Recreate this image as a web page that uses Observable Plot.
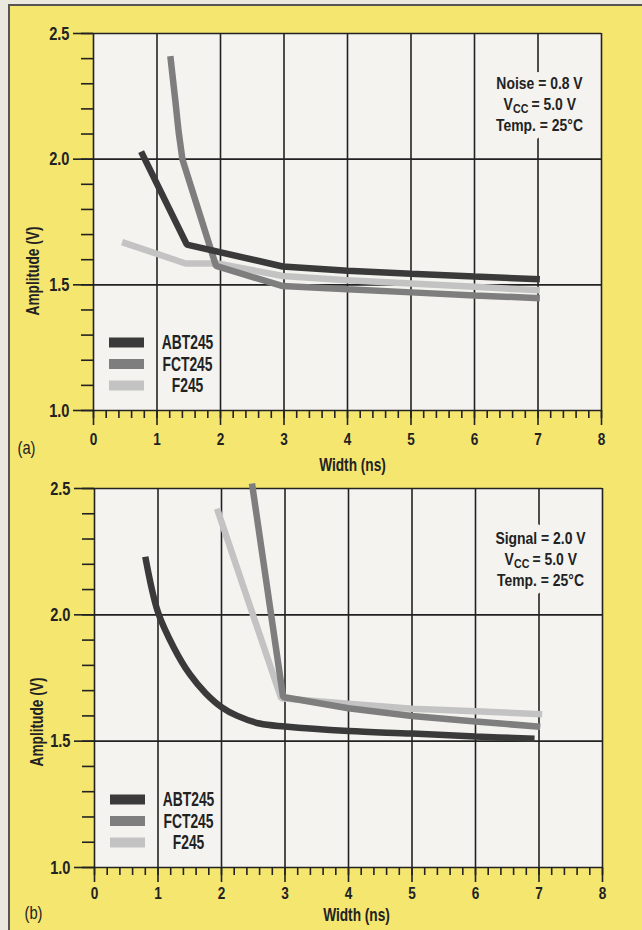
<!DOCTYPE html>
<html>
<head>
<meta charset="utf-8">
<script src="https://cdn.jsdelivr.net/npm/d3@7"></script>
<script src="https://cdn.jsdelivr.net/npm/@observablehq/plot@0.6"></script>
<style>
  html, body { margin: 0; padding: 0; background: #ebe8df; }
  #page { position: relative; width: 642px; height: 930px; overflow: hidden; background: #ebe8df; }
  #card { position: absolute; left: 8px; top: 4px; right: 0; bottom: 0; background: #f5e670;
          border-left: 2px solid #555; border-top: 2px solid #555; }
  #pa, #pb { position: absolute; left: 0; }
  #pa { top: 0; }
  #pb { top: 475px; }
</style>
</head>
<body>
<div id="page">
  <div id="card"></div>
  <div id="pa"></div>
  <div id="pb"></div>
</div>
<script>
// ---------- data ----------
const widthTicks = [0, 1, 2, 3, 4, 5, 6, 7, 8];
const widthMinorTicks = d3.range(0, 41).map(i => i / 5);
const ampTicks = [1.0, 1.5, 2.0, 2.5];
const ampMinorTicks = d3.range(10, 26).map(i => i / 10);
const series = ["ABT245", "FCT245", "F245"];
const seriesColors = ["#3a3a3a", "#7e7e7e", "#c3c3c3"];

// panel (a): noise
const aABT245x = [0.75, 1.47, 2.98, 4.0, 5.0, 6.0, 7.03];
const aABT245y = [2.03, 1.66, 1.573, 1.556, 1.544, 1.533, 1.522];
const aFCT245x = [1.21, 1.29, 1.34, 1.40, 1.93, 2.98, 4.0, 5.0, 6.0, 7.03];
const aFCT245y = [2.41, 2.23, 2.11, 2.00, 1.575, 1.495, 1.482, 1.47, 1.458, 1.447];
const aF245x = [0.45, 1.45, 1.95, 2.98, 4.0, 5.0, 6.0, 7.03];
const aF245y = [1.67, 1.585, 1.585, 1.535, 1.518, 1.505, 1.492, 1.478];

// panel (b): signal
const bABT245x = [0.8, 1.0, 1.25, 1.5, 1.75, 2.0, 2.25, 2.6, 3.0, 4.0, 5.0, 6.0, 6.93];
const bABT245y = [2.23, 2.01, 1.87, 1.765, 1.69, 1.635, 1.6, 1.57, 1.558, 1.54, 1.53, 1.518, 1.51];
const bFCT245x = [2.48, 2.97, 4.0, 5.0, 6.0, 7.02];
const bFCT245y = [2.52, 1.675, 1.63, 1.6, 1.578, 1.557];
const bF245x = [1.93, 2.94, 4.0, 5.0, 6.0, 7.05];
const bF245y = [2.42, 1.67, 1.648, 1.628, 1.618, 1.607];

const noteA = ["Noise = 0.8 V", "V", "CC", "= 5.0 V", "Temp. = 25°C"];
const noteB = ["Signal = 2.0 V", "V", "CC", "= 5.0 V", "Temp. = 25°C"];
const xLabel = "Width (ns)";
const yLabel = "Amplitude (V)";

// ---------- styling ----------
const INK = "#222";
const PLOT_BG = "#f4f3ef";
const FONT = "'Liberation Sans', Arial, sans-serif";
// horizontal condensing per text group (reference uses a condensed face)
const CONDENSE = {"y-axis tick label": 0.77, "x-axis tick label": 0.8, legend: 0.66, note: 0.82, title: 0.72, tag: 0.82};

const rows = (name, xs, ys) => xs.map((x, i) => ({series: name, x, y: ys[i]}));
const swatch = {draw(ctx) { ctx.rect(-17.5, -5, 35, 10); }};

function panel(opts) {
  const {data, curves, note, tag, height, mt, mb, ml, mr, xPad, ampDx, ampDy, wDx, wDy, tagDx, tagDy} = opts;
  const txt = {fill: INK, fontWeight: "bold", fontFamily: FONT};
  const order = [2, 1, 0]; // light first, dark on top
  // annotation pieces: [index into note, dx, dy, anchor, fontSize]
  const pieces = [[0, -62, 50, "middle", 17], [4, -62, 92, "middle", 17], [1, -98, 71, "start", 17],
                  [3, -70, 71, "start", 17], [2, -88.5, 75, "start", 13]];
  const noteMarks = (haloPass) => pieces.map(([k, dx, dy, anchor, fs]) =>
    Plot.text([note[k]], {frameAnchor: "top-right", dx, dy, text: d => d, textAnchor: anchor, lineAnchor: "middle",
      fontSize: fs, fontWeight: "bold", fontFamily: FONT, ariaLabel: () => "note",
      fill: haloPass ? PLOT_BG : INK, stroke: haloPass ? PLOT_BG : null, strokeWidth: haloPass ? 16 : 0}));
  const svg = Plot.plot({
    width: 642,
    height,
    marginTop: mt, marginBottom: mb, marginLeft: ml, marginRight: mr,
    x: {domain: [0, 8]},
    y: {domain: [1, 2.5]},
    style: {background: "transparent", fontFamily: FONT, overflow: "visible"},
    marks: [
      Plot.frame({fill: PLOT_BG, stroke: null}),
      Plot.ruleX(widthTicks, {stroke: INK, strokeWidth: 1.6}),
      Plot.ruleY(ampTicks, {stroke: INK, strokeWidth: 1.6}),
      Plot.axisY(ampMinorTicks, {tickSize: 12, tickFormat: () => "", label: null, color: INK, strokeWidth: 1.6}),
      Plot.axisY(ampTicks, {tickSize: 20, tickPadding: 4, tickFormat: d3.format(".1f"), label: null,
        color: INK, strokeWidth: 1.6, fontSize: 19, fontWeight: "bold", fontFamily: FONT}),
      Plot.axisX(widthMinorTicks, {tickSize: 8, tickFormat: () => "", label: null, color: INK, strokeWidth: 1.6}),
      Plot.axisX(widthTicks, {tickSize: 15, tickPadding: xPad, tickFormat: d3.format("d"), label: null,
        color: INK, strokeWidth: 1.6, fontSize: 17, fontWeight: "bold", fontFamily: FONT}),
      ...order.map(i => Plot.line(data[i], {x: "x", y: "y", stroke: seriesColors[i], strokeWidth: 6.5,
        curve: curves[i], strokeLinejoin: "miter", strokeLinecap: "butt"})),
      // legend
      ...series.map((s, i) => Plot.dot([s], {frameAnchor: "bottom-left", dx: 33, dy: -68 + 21.5 * i,
        symbol: swatch, fill: seriesColors[i], stroke: "none"})),
      ...series.map((s, i) => Plot.text([s], {frameAnchor: "bottom-left", dx: 94, dy: -68 + 21.5 * i,
        text: d => d, textAnchor: "middle", lineAnchor: "middle", fontSize: 21, ariaLabel: () => "legend", ...txt})),
      // annotation (halos first, then text)
      ...noteMarks(true),
      ...noteMarks(false),
      // axis titles and panel tag
      Plot.text([yLabel], {frameAnchor: "left", dx: ampDx, dy: ampDy, rotate: -90, text: d => d,
        textAnchor: "middle", lineAnchor: "middle", fontSize: 19, ariaLabel: () => "title", ...txt}),
      Plot.text([xLabel], {frameAnchor: "bottom", dx: wDx, dy: wDy, text: d => d,
        textAnchor: "middle", lineAnchor: "middle", fontSize: 19, ariaLabel: () => "title", ...txt}),
      Plot.text([tag], {frameAnchor: "bottom-left", dx: tagDx, dy: tagDy, text: d => d, ariaLabel: () => "tag",
        textAnchor: "middle", lineAnchor: "middle", fontSize: 18, fontWeight: "normal", fill: INK, fontFamily: FONT})
    ]
  });
  // condense text horizontally around each text's own anchor
  svg.querySelectorAll("text").forEach(t => {
    let lab = t.getAttribute("aria-label");
    if (!CONDENSE[lab]) {
      const g = t.closest("g[aria-label]");
      lab = g ? g.getAttribute("aria-label") : null;
    }
    const s = CONDENSE[lab];
    if (!s) return;
    t.setAttribute("transform", (t.getAttribute("transform") || "") + ` scale(${s},1)`);
  });
  return svg;
}

const chartA = panel({
  data: [rows(series[0], aABT245x, aABT245y), rows(series[1], aFCT245x, aFCT245y), rows(series[2], aF245x, aF245y)],
  curves: ["linear", "linear", "linear"],
  note: noteA, tag: "(a)",
  height: 475, mt: 33, mb: 65, ml: 93, mr: 41, xPad: 7,
  ampDx: -61, ampDy: 49, wDx: 5, wDy: 54, tagDx: -67, tagDy: 38
});
const chartB = panel({
  data: [rows(series[0], bABT245x, bABT245y), rows(series[1], bFCT245x, bFCT245y), rows(series[2], bF245x, bF245y)],
  curves: ["catmull-rom", "linear", "linear"],
  note: noteB, tag: "(b)",
  height: 455, mt: 13, mb: 63, ml: 94, mr: 40, xPad: 4,
  ampDx: -58, ampDy: 44, wDx: 8, wDy: 47, tagDx: -61, tagDy: 46
});
document.getElementById("pa").appendChild(chartA);
document.getElementById("pb").appendChild(chartB);
</script>
</body>
</html>
